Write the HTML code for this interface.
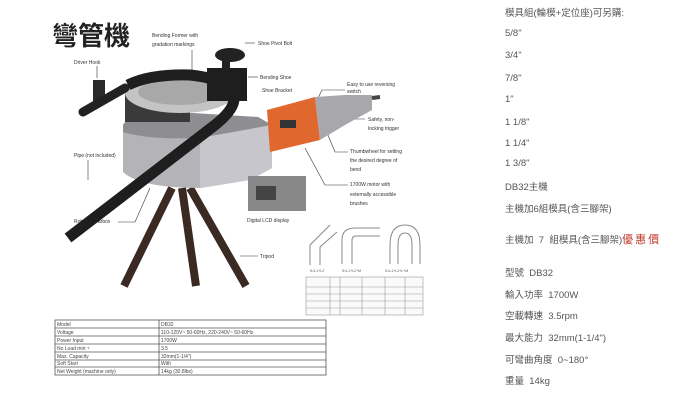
<!DOCTYPE html>
<html><head><meta charset="utf-8"><style>
html,body{margin:0;padding:0;background:#fff;}
body{width:700px;height:411px;position:relative;overflow:hidden;font-family:"Liberation Sans","Noto Sans CJK TC",sans-serif;}
.r{position:absolute;left:505px;font-size:9.5px;color:#555;white-space:nowrap;line-height:11px;}
.red{color:#c0392b;font-size:11px;letter-spacing:2px;}
svg text{font-family:"Liberation Sans","Noto Sans CJK TC",sans-serif;}
</style></head><body>
<svg width="470" height="411" style="position:absolute;left:0;top:0">
<text x="52" y="45" font-size="26" font-weight="bold" fill="#222" font-family="Noto Sans CJK TC, sans-serif">彎管機</text>
<g font-size="5" fill="#333">
<text x="152" y="37">Bending Former with</text><text x="152" y="46">gradation markings</text>
<text x="258" y="45">Shoe Pivot Bolt</text>
<text x="74" y="64">Driver Hook</text>
<text x="260" y="79">Bending Shoe</text>
<text x="262" y="92">Shoe Bracket</text>
<text x="347" y="86">Easy to use reversing</text><text x="347" y="93">switch</text>
<text x="368" y="121">Safety, non-</text><text x="368" y="130">locking trigger</text>
<text x="350" y="153">Thumbwheel for setting</text><text x="350" y="162">the desired degree of</text><text x="350" y="171">bend</text>
<text x="350" y="186">1700W motor with</text><text x="350" y="196">externally accessible</text><text x="350" y="205">brushes</text>
<text x="74" y="157">Pipe (not included)</text>
<text x="74" y="223">Robust Gearbox</text>
<text x="247" y="222">Digital LCD display</text>
<text x="260" y="258">Tripod</text>
</g>
<g stroke="#333" stroke-width="0.6" fill="none">
<path d="M192 50 L192 70"/><path d="M255 43 L245 43"/><path d="M97 66 L97 78"/><path d="M258 77 L248 77"/>
<path d="M88 160 L88 180"/><path d="M118 222 L135 222 L150 188"/><path d="M258 256 L240 256"/>
<path d="M345 90 L322 90 L318 98"/><path d="M365 119 L345 119"/><path d="M348 152 L335 152 L325 128"/><path d="M348 185 L325 185 L305 148"/>
</g>
<!-- tripod -->
<g stroke="#3a2a22" stroke-width="8" fill="none">
<line x1="172" y1="188" x2="124" y2="286"/><line x1="190" y1="188" x2="246" y2="286"/><line x1="182" y1="188" x2="196" y2="286"/>
</g>
<!-- gearbox -->
<path d="M123 125 Q130 112 175 112 L258 117 L272 125 L272 168 L250 180 L200 188 Q140 188 123 172 Z" fill="#b4b4b8"/>
<path d="M123 125 Q130 112 175 112 L258 117 L272 125 L200 138 Q150 140 123 132Z" fill="#8e8e92"/>
<path d="M200 138 L272 125 L272 168 L250 180 L200 188Z" fill="#c6c6cc"/>
<!-- bracket + former -->
<rect x="125" y="92" width="65" height="30" fill="#3a3a3a"/>
<ellipse cx="180" cy="93" rx="55" ry="20" fill="#c4c4c4"/>
<ellipse cx="180" cy="92" rx="42" ry="13" fill="#a8a8a8"/>
<rect x="207" y="68" width="40" height="33" fill="#1e1e1e"/>
<rect x="222" y="58" width="8" height="12" fill="#222"/>
<ellipse cx="230" cy="55" rx="15" ry="7" fill="#222"/>
<rect x="93" y="80" width="12" height="22" fill="#2a2a2a"/>
<path d="M83 112 L125 88" stroke="#222" stroke-width="9" stroke-linecap="round"/>
<!-- motor -->
<path d="M267 110 L315 97 L320 140 L270 152Z" fill="#e0682e"/>
<path d="M315 97 L345 95 L372 95 L372 110 L345 125 L320 140Z" fill="#a8a8ac"/>
<path d="M372 98 L380 97" stroke="#444" stroke-width="4"/>
<rect x="280" y="120" width="16" height="8" fill="#333"/>
<!-- pipe -->
<path d="M68 238 Q150 175 215 125 Q240 105 232 92 Q222 78 190 75 Q150 74 128 85" stroke="#1e1e1e" stroke-width="11" fill="none"/>
<!-- LCD -->
<rect x="248" y="176" width="58" height="35" fill="#888"/><rect x="256" y="186" width="20" height="14" fill="#444"/>
<!-- bend diagrams -->
<g stroke="#888" fill="none" stroke-width="1">
<path d="M310 265 L310 245 L330 225"/><path d="M320 265 L320 247 L337 232"/>
<path d="M342 264 L342 240 Q342 228 355 228 L380 228"/><path d="M352 264 L352 240 Q352 236 356 236 L380 236"/>
<path d="M390 264 L390 245 Q390 225 405 225 Q420 225 420 245 L420 264"/><path d="M398 264 L398 245 Q398 233 405 233 Q412 233 412 245 L412 264"/>
</g>
<g font-size="3.5" fill="#555"><text x="310" y="272">S=L1+L2</text><text x="342" y="272">S=L1+L2+M</text><text x="385" y="272">S=L1+L2+L+M</text></g>
<g stroke="#999" stroke-width="0.6" fill="#fafafa">
<rect x="306" y="277" width="117" height="38"/>
<line x1="306" y1="287" x2="423" y2="287"/><line x1="306" y1="294" x2="423" y2="294"/><line x1="306" y1="301" x2="423" y2="301"/><line x1="306" y1="308" x2="423" y2="308"/>
<line x1="330" y1="277" x2="330" y2="315"/><line x1="340" y1="277" x2="340" y2="315"/><line x1="362" y1="277" x2="362" y2="315"/><line x1="385" y1="277" x2="385" y2="315"/><line x1="405" y1="277" x2="405" y2="315"/>
</g>
<!-- spec table -->
<g stroke="#555" stroke-width="0.8" fill="none">
<rect x="55" y="320" width="271" height="55"/>
<line x1="159" y1="320" x2="159" y2="375"/>
<line x1="55" y1="328" x2="326" y2="328"/><line x1="55" y1="336" x2="326" y2="336"/><line x1="55" y1="344" x2="326" y2="344"/><line x1="55" y1="352" x2="326" y2="352"/><line x1="55" y1="360" x2="326" y2="360"/><line x1="55" y1="367" x2="326" y2="367"/>
</g>
<g font-size="5" fill="#444">
<text x="57" y="326">Model</text><text x="161" y="326">DB32</text>
<text x="57" y="334">Voltage</text><text x="161" y="334">110-120V~ 50-60Hz, 220-240V~ 50-60Hz</text>
<text x="57" y="342">Power Input</text><text x="161" y="342">1700W</text>
<text x="57" y="350">No Load min⁻¹</text><text x="161" y="350">3.5</text>
<text x="57" y="358">Max. Capacity</text><text x="161" y="358">32mm(1-1/4")</text>
<text x="57" y="365">Soft Start</text><text x="161" y="365">With</text>
<text x="57" y="373">Net Weight (machine only)</text><text x="161" y="373">14kg (30.8lbs)</text>
</g>
</svg>
<div class="r" style="top:8px">模具組(輪模+定位座)可另購:</div>
<div class="r" style="top:28px">5/8"</div>
<div class="r" style="top:50px">3/4"</div>
<div class="r" style="top:73px">7/8"</div>
<div class="r" style="top:94px">1"</div>
<div class="r" style="top:117px">1 1/8"</div>
<div class="r" style="top:138px">1 1/4"</div>
<div class="r" style="top:158px">1 3/8"</div>
<div class="r" style="top:182px">DB32主機</div>
<div class="r" style="top:204px">主機加6組模具(含三腳架)</div>
<div class="r" style="top:235px">主機加 &nbsp;7 &nbsp;組模具(含三腳架)<span class="red">優惠價</span></div>
<div class="r" style="top:268px">型號 &nbsp;DB32</div>
<div class="r" style="top:290px">輸入功率 &nbsp;1700W</div>
<div class="r" style="top:311px">空載轉速 &nbsp;3.5rpm</div>
<div class="r" style="top:333px">最大能力 &nbsp;32mm(1-1/4")</div>
<div class="r" style="top:355px">可彎曲角度 &nbsp;0~180°</div>
<div class="r" style="top:376px">重量 &nbsp;14kg</div>
</body></html>
